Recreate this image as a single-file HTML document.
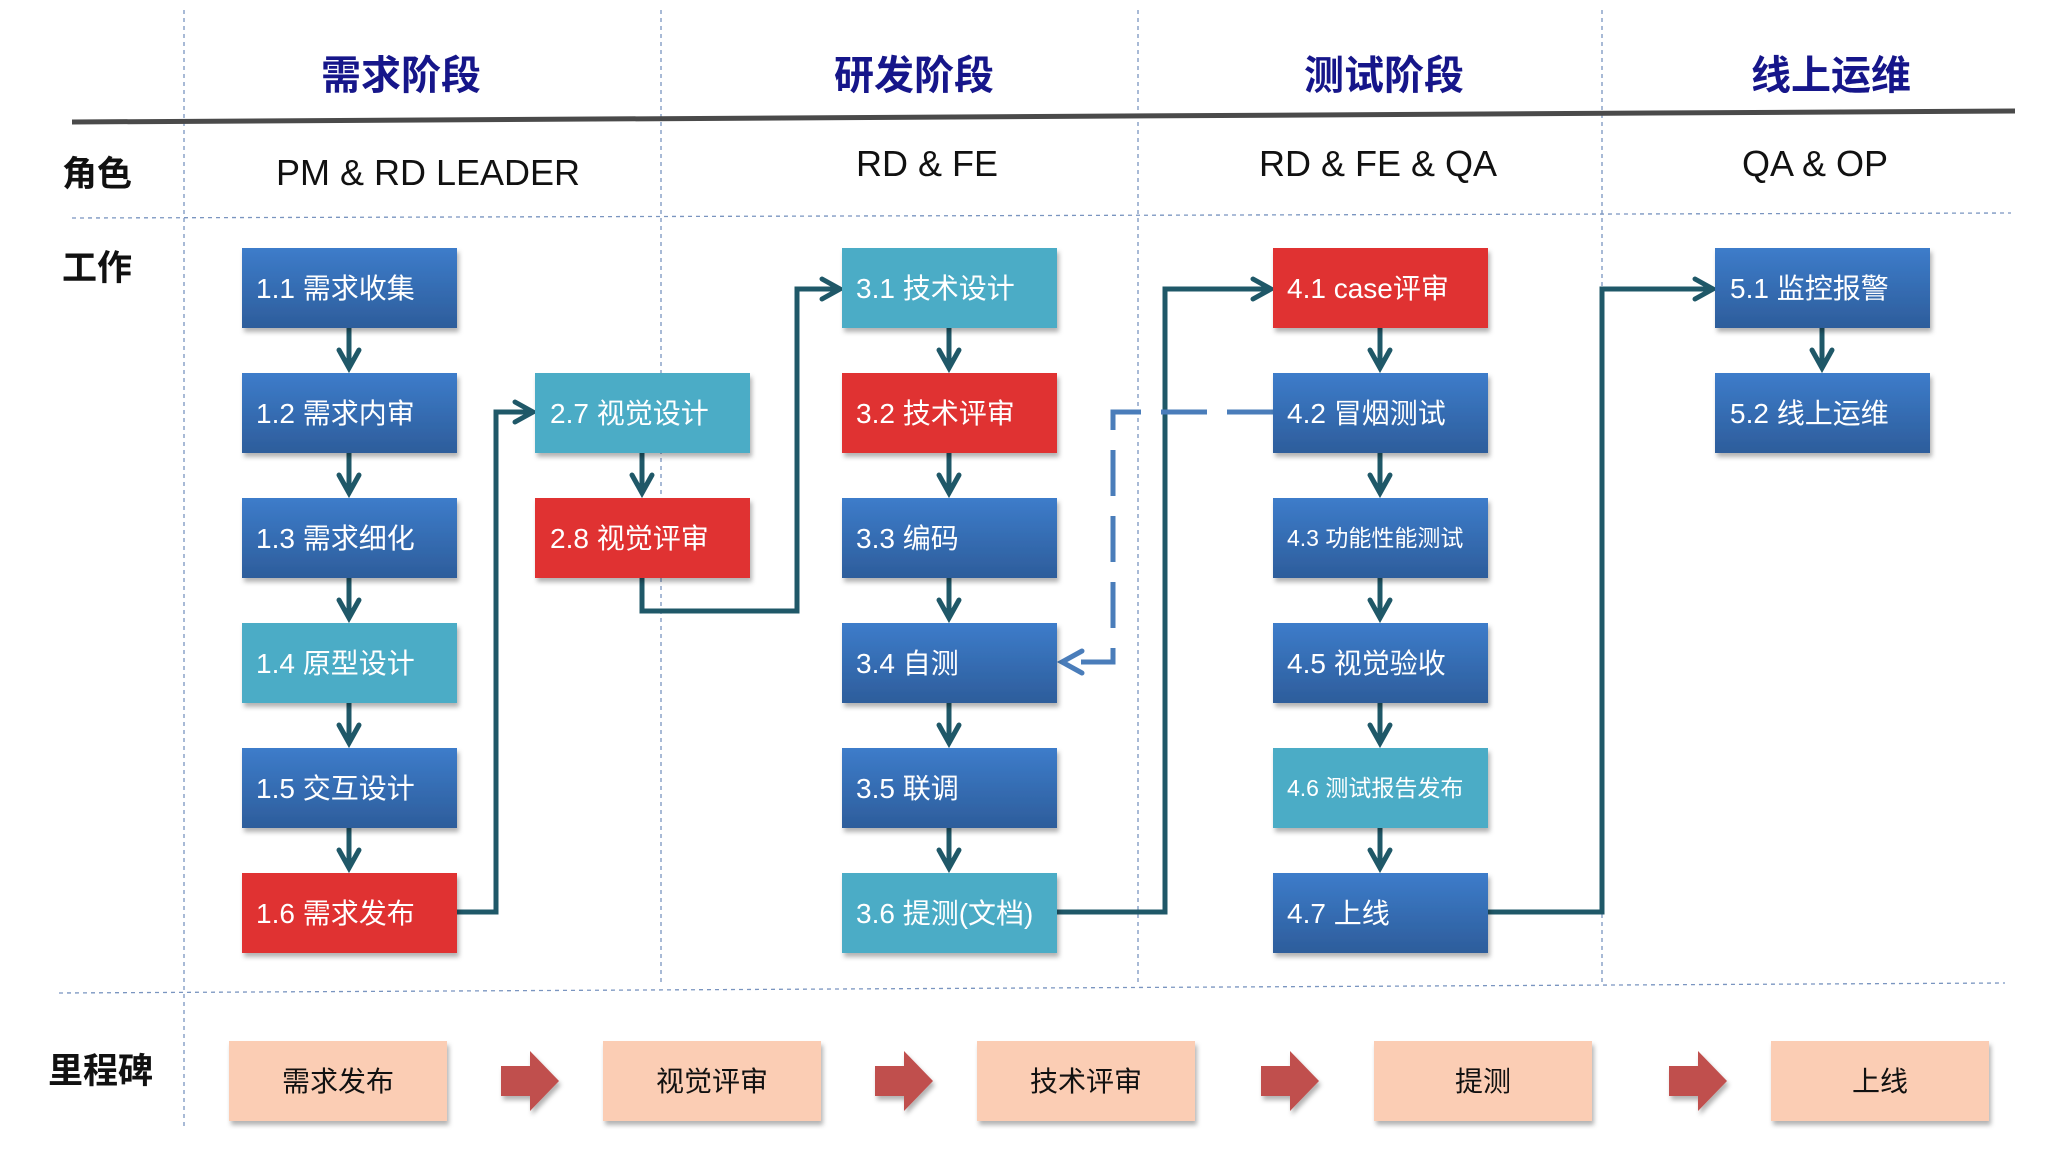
<!DOCTYPE html>
<html><head><meta charset="utf-8"><style>
html,body{margin:0;padding:0;background:#fff;}
svg text{font-family:"Liberation Sans","Noto Sans CJK SC",sans-serif;}
</style></head><body>
<svg width="2048" height="1152" viewBox="0 0 2048 1152" xmlns="http://www.w3.org/2000/svg">
<defs>
<linearGradient id="gb" x1="0" y1="0" x2="0" y2="1"><stop offset="0" stop-color="#3d7cca"/><stop offset="1" stop-color="#2d5d9b"/></linearGradient>
<filter id="sh" x="-10%" y="-10%" width="130%" height="140%"><feDropShadow dx="2" dy="4" stdDeviation="2.5" flood-color="#000" flood-opacity="0.3"/></filter>
</defs>
<g stroke="#7a95c0" stroke-width="1.3" stroke-dasharray="4,4" fill="none">
<line x1="184" y1="10" x2="184" y2="1130"/>
<line x1="661" y1="10" x2="661" y2="986"/>
<line x1="1138" y1="10" x2="1138" y2="986"/>
<line x1="1602" y1="10" x2="1602" y2="986"/>
<line x1="72" y1="218" x2="2011" y2="213"/>
<line x1="59" y1="993" x2="2005" y2="983"/>
</g>
<line x1="72" y1="122" x2="2015" y2="111" stroke="#4a4a4a" stroke-width="5"/>
<g fill="#16168a" font-size="40" font-weight="bold" text-anchor="middle">
<text x="401" y="89">需求阶段</text><text x="914" y="89">研发阶段</text><text x="1384" y="89">测试阶段</text><text x="1831" y="89">线上运维</text>
</g>
<g fill="#111" font-size="36" text-anchor="middle">
<text x="428" y="185">PM &amp; RD LEADER</text><text x="927" y="176">RD &amp; FE</text><text x="1378" y="176">RD &amp; FE &amp; QA</text><text x="1815" y="176">QA &amp; OP</text>
</g>
<g fill="#111" font-size="35" font-weight="bold">
<text x="62" y="186">角色</text><text x="62" y="280">工作</text><text x="48" y="1083">里程碑</text>
</g>
<g stroke="#1f5868" stroke-width="5" fill="none" stroke-linejoin="miter">
<line x1="349" y1="328" x2="349" y2="368"/><line x1="349" y1="453" x2="349" y2="493"/><line x1="349" y1="578" x2="349" y2="618"/><line x1="349" y1="703" x2="349" y2="743"/><line x1="349" y1="828" x2="349" y2="868"/>
<line x1="642" y1="453" x2="642" y2="493"/>
<line x1="949" y1="328" x2="949" y2="368"/><line x1="949" y1="453" x2="949" y2="493"/><line x1="949" y1="578" x2="949" y2="618"/><line x1="949" y1="703" x2="949" y2="743"/><line x1="949" y1="828" x2="949" y2="868"/>
<line x1="1380" y1="328" x2="1380" y2="368"/><line x1="1380" y1="453" x2="1380" y2="493"/><line x1="1380" y1="578" x2="1380" y2="618"/><line x1="1380" y1="703" x2="1380" y2="743"/><line x1="1380" y1="828" x2="1380" y2="868"/>
<line x1="1822" y1="328" x2="1822" y2="368"/>
<polyline points="457,912 496,912 496,412 531,412"/>
<polyline points="642,577 642,611 797,611 797,289 838,289"/>
<polyline points="1057,912 1165,912 1165,289 1269,289"/>
<polyline points="1488,912 1602,912 1602,289 1711,289"/>
</g>
<g stroke="#1f5868" stroke-width="5" fill="none" stroke-linecap="round">
<polyline points="339,350 349,368 359,350"/><polyline points="339,475 349,493 359,475"/><polyline points="339,600 349,618 359,600"/><polyline points="339,725 349,743 359,725"/><polyline points="339,850 349,868 359,850"/>
<polyline points="632,475 642,493 652,475"/>
<polyline points="939,350 949,368 959,350"/><polyline points="939,475 949,493 959,475"/><polyline points="939,600 949,618 959,600"/><polyline points="939,725 949,743 959,725"/><polyline points="939,850 949,868 959,850"/>
<polyline points="1370,350 1380,368 1390,350"/><polyline points="1370,475 1380,493 1390,475"/><polyline points="1370,600 1380,618 1390,600"/><polyline points="1370,725 1380,743 1390,725"/><polyline points="1370,850 1380,868 1390,850"/>
<polyline points="1812,350 1822,368 1832,350"/>
<polyline points="515,402 533,412 515,422"/><polyline points="822,279 840,289 822,299"/><polyline points="1253,279 1271,289 1253,299"/><polyline points="1695,279 1713,289 1695,299"/>
</g>
<polyline points="1273,412 1113,412 1113,662 1064,662" stroke="#4a7dba" stroke-width="5" fill="none" stroke-dasharray="46,20"/>
<polyline points="1082,651 1062,662 1082,673" stroke="#4a7dba" stroke-width="5" fill="none" stroke-linecap="round"/>
<g filter="url(#sh)">
<rect x="242" y="248" width="215" height="80" fill="url(#gb)"/>
<rect x="242" y="373" width="215" height="80" fill="url(#gb)"/>
<rect x="242" y="498" width="215" height="80" fill="url(#gb)"/>
<rect x="242" y="623" width="215" height="80" fill="#4bacc6"/>
<rect x="242" y="748" width="215" height="80" fill="url(#gb)"/>
<rect x="242" y="873" width="215" height="80" fill="#e03030"/>
<rect x="535" y="373" width="215" height="80" fill="#4bacc6"/>
<rect x="535" y="498" width="215" height="80" fill="#e03030"/>
<rect x="842" y="248" width="215" height="80" fill="#4bacc6"/>
<rect x="842" y="373" width="215" height="80" fill="#e03030"/>
<rect x="842" y="498" width="215" height="80" fill="url(#gb)"/>
<rect x="842" y="623" width="215" height="80" fill="url(#gb)"/>
<rect x="842" y="748" width="215" height="80" fill="url(#gb)"/>
<rect x="842" y="873" width="215" height="80" fill="#4bacc6"/>
<rect x="1273" y="248" width="215" height="80" fill="#e03030"/>
<rect x="1273" y="373" width="215" height="80" fill="url(#gb)"/>
<rect x="1273" y="498" width="215" height="80" fill="url(#gb)"/>
<rect x="1273" y="623" width="215" height="80" fill="url(#gb)"/>
<rect x="1273" y="748" width="215" height="80" fill="#4bacc6"/>
<rect x="1273" y="873" width="215" height="80" fill="url(#gb)"/>
<rect x="1715" y="248" width="215" height="80" fill="url(#gb)"/>
<rect x="1715" y="373" width="215" height="80" fill="url(#gb)"/>
</g>
<g fill="#fff" font-size="28">
<text x="256" y="298">1.1 需求收集</text><text x="256" y="423">1.2 需求内审</text><text x="256" y="548">1.3 需求细化</text><text x="256" y="673">1.4 原型设计</text><text x="256" y="798">1.5 交互设计</text><text x="256" y="923">1.6 需求发布</text>
<text x="550" y="423">2.7 视觉设计</text><text x="550" y="548">2.8 视觉评审</text>
<text x="856" y="298">3.1 技术设计</text><text x="856" y="423">3.2 技术评审</text><text x="856" y="548">3.3 编码</text><text x="856" y="673">3.4 自测</text><text x="856" y="798">3.5 联调</text><text x="856" y="923">3.6 提测(文档)</text>
<text x="1287" y="298">4.1 case评审</text><text x="1287" y="423">4.2 冒烟测试</text><text x="1287" y="546" font-size="23">4.3 功能性能测试</text><text x="1287" y="673">4.5 视觉验收</text><text x="1287" y="796" font-size="23">4.6 测试报告发布</text><text x="1287" y="923">4.7 上线</text>
<text x="1730" y="298">5.1 监控报警</text><text x="1730" y="423">5.2 线上运维</text>
</g>
<g filter="url(#sh)" fill="#fbcdb4">
<rect x="229" y="1041" width="218" height="80"/><rect x="603" y="1041" width="218" height="80"/><rect x="977" y="1041" width="218" height="80"/><rect x="1374" y="1041" width="218" height="80"/><rect x="1771" y="1041" width="218" height="80"/>
</g>
<g fill="#111" font-size="28" text-anchor="middle">
<text x="338" y="1091">需求发布</text><text x="712" y="1091">视觉评审</text><text x="1086" y="1091">技术评审</text><text x="1483" y="1091">提测</text><text x="1880" y="1091">上线</text>
</g>
<g fill="#c0504d" filter="url(#sh)">
<polygon points="501,1066 530,1066 530,1051 559,1081 530,1111 530,1096 501,1096"/>
<polygon points="875,1066 904,1066 904,1051 933,1081 904,1111 904,1096 875,1096"/>
<polygon points="1261,1066 1290,1066 1290,1051 1319,1081 1290,1111 1290,1096 1261,1096"/>
<polygon points="1669,1066 1698,1066 1698,1051 1727,1081 1698,1111 1698,1096 1669,1096"/>
</g>
</svg>
</body></html>
